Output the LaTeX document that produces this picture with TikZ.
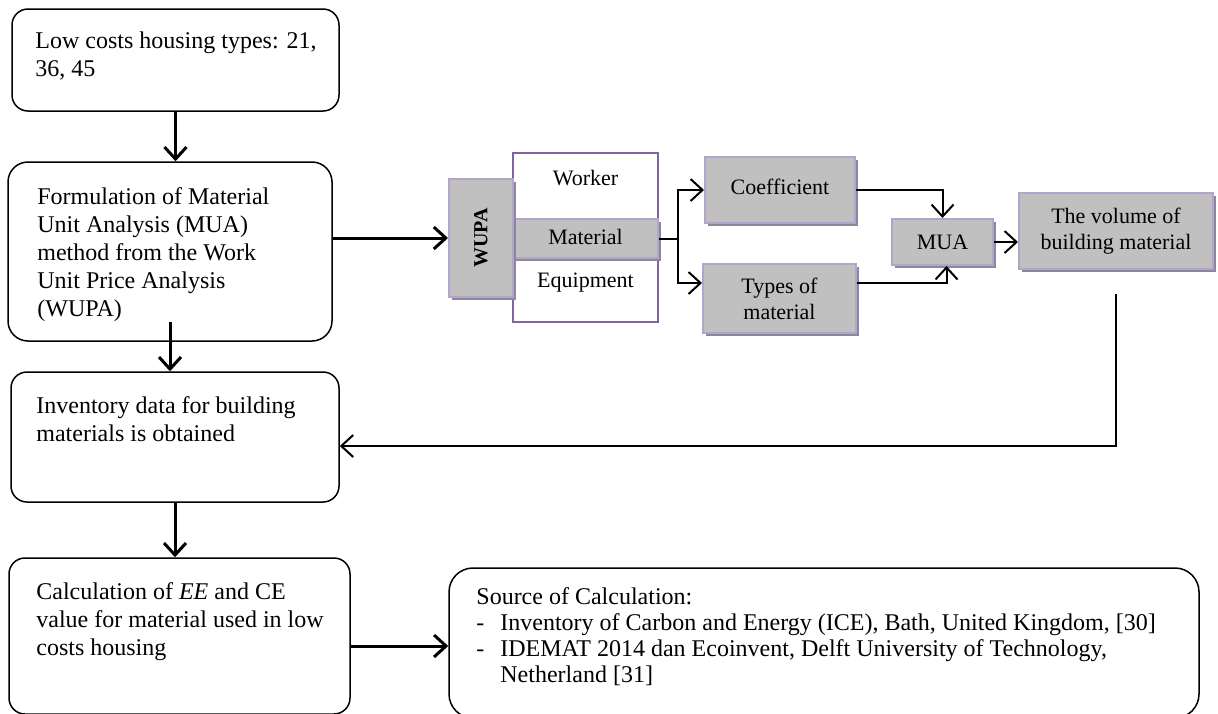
\documentclass[tikz,border=0pt]{standalone}
\usepackage{fontspec}
\usepackage{graphicx}
\setmainfont{Liberation Serif}
\usetikzlibrary{arrows.meta,shadows}
\definecolor{boxgray}{RGB}{192,192,192}
\definecolor{boxedge}{RGB}{180,164,204}
\definecolor{boxshade}{RGB}{140,136,156}
\definecolor{compedge}{RGB}{128,100,162}

\begin{document}
\begin{tikzpicture}[x=0.5pt,y=-0.5pt,
  stepbox/.style={draw,line width=0.75pt,rounded corners=8pt,inner sep=0pt},
  greybox/.style={draw=boxedge,line width=1pt,fill=boxgray,inner sep=0pt,align=center,
    font=\fontsize{11}{13}\selectfont,
    drop shadow={shadow xshift=1.5pt,shadow yshift=-1.5pt,fill=boxshade,opacity=1}},
  boxtext/.style={anchor=north west,inner sep=0pt,align=left,font=\fontsize{12}{14}\selectfont},
  arr/.style={-{Straight Barb[length=6pt,width=11pt]},line width=1.5pt},
  thinarr/.style={-{Straight Barb[length=6pt,width=11pt]},line width=1pt}]
\useasboundingbox (0,0) rectangle (1218,713);

% left column
\node[stepbox,minimum width=163.5pt,minimum height=51pt] (low) at (175.5,60) {};
\node[boxtext] (lowtxt) at (35,31) {Low costs housing types: 21,\\36, 45};

\node[stepbox,rounded corners=10pt,minimum width=162pt,minimum height=89.5pt] (form) at (170,251.5) {};
\node[boxtext] (formtxt) at (37,187) {Formulation of Material\\Unit Analysis (MUA)\\method from the Work\\Unit Price Analysis\\(WUPA)};

\node[stepbox,minimum width=164pt,minimum height=65pt] (inv) at (175,437) {};
\node[boxtext] (invtxt) at (36,396) {Inventory data for building\\materials is obtained};

\node[stepbox,minimum width=170.5pt,minimum height=78pt] (calc) at (179.5,636) {};
\node[boxtext] (calctxt) at (36,582) {Calculation of \textit{EE} and CE\\value for material used in low\\costs housing};

\node[stepbox,rounded corners=12pt,minimum width=375pt,minimum height=75pt] (src) at (824,643) {};
\node[boxtext,font=\fontsize{12}{13}\selectfont] (srctxt) at (476,587) {Source of Calculation:\\
  \makebox[12pt][l]{-}Inventory of Carbon and Energy (ICE), Bath, United Kingdom, [30]\\
  \makebox[12pt][l]{-}IDEMAT 2014 dan Ecoinvent, Delft University of Technology,\\
  \hspace*{12pt}Netherland [31]};

% WUPA block
\node[draw=compedge,line width=0.6pt,fill=white,minimum width=72.5pt,minimum height=84.5pt,inner sep=0pt] (comp) at (585.5,237.5) {};
\node[greybox,minimum width=72.5pt,minimum height=19.5pt] (material) at (585.5,238.5) {\raisebox{2pt}{Material}};
\node[font=\fontsize{11}{13}\selectfont] (worker) at (585.5,178) {Worker};
\node[font=\fontsize{11}{13}\selectfont] (equip) at (585.5,283) {Equipment};
\node[greybox,minimum width=32pt,minimum height=59pt,font=\fontsize{10}{12}\selectfont\bfseries] (wupa) at (481,238) {\rotatebox{90}{WUPA}};

\node[greybox,minimum width=75pt,minimum height=33pt] (coef) at (780,190) {\raisebox{3.5pt}{Coefficient}};
\node[greybox,minimum width=76.5pt,minimum height=34.5pt] (types) at (779.5,298.5) {Types of\\material};
\node[greybox,minimum width=50.5pt,minimum height=23pt] (mua) at (942.5,242) {\raisebox{-1.5pt}{MUA}};
\node[greybox,minimum width=97pt,minimum height=38pt] (vol) at (1116,231) {The volume of\\building material};

% connectors
\draw[arr] (low.south) -- (low.south |- form.north);
\draw[arr] ([yshift=10pt]form.south) -- (form.south |- inv.north);
\draw[arr] (inv.south) -- (inv.south |- calc.north);
\draw[arr] (form.east |- wupa) -- (wupa);

\coordinate (br) at ([xshift=9.5pt]material.east);
\draw[thinarr] (material.east) -- (br) |- (coef.west);
\draw[thinarr] (br) |- ([yshift=7.75pt]types.west);
\draw[thinarr] (coef.east) -| (mua.north);
\draw[thinarr] ([yshift=7.75pt]types.east) -| ([xshift=2pt]mua.south);
\draw[thinarr] (mua.east) -- (mua.east -| vol.west);

\coordinate (fb) at ([yshift=-12pt]vol.south);
\draw[thinarr] (fb) |- ([yshift=-4.5pt]inv.east);
\draw[arr] ([yshift=-5pt]calc.east) -- ([yshift=-5pt]calc.east -| src.west);
\end{tikzpicture}
\end{document}
